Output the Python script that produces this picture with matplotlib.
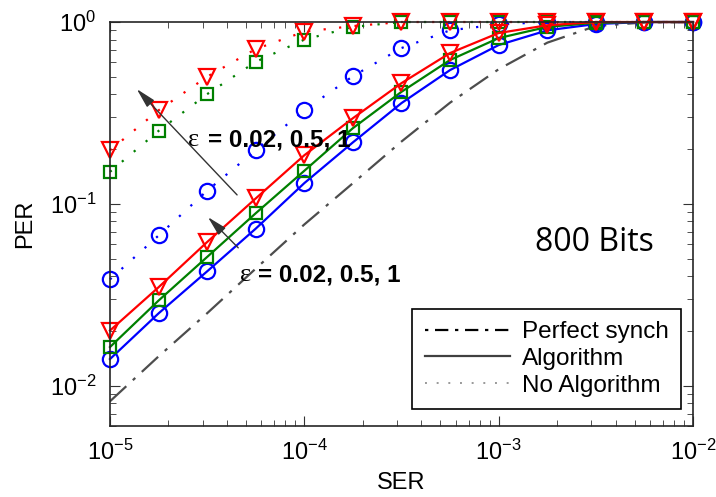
import matplotlib
matplotlib.use("Agg")
import matplotlib.pyplot as plt
from matplotlib.lines import Line2D

plt.rcParams['font.family'] = ['Liberation Sans', 'DejaVu Sans']
plt.rcParams['mathtext.fontset'] = 'custom'
plt.rcParams['mathtext.rm'] = 'Liberation Sans'
plt.rcParams['mathtext.default'] = 'regular'

# SER points (quarter decades)
ser = [1e-5, 1.78e-5, 3.16e-5, 5.62e-5, 1e-4, 1.78e-4, 3.16e-4,
       5.62e-4, 1e-3, 1.78e-3, 3.16e-3, 5.62e-3, 1e-2]

perfect = [0.0082, 0.0145, 0.025, 0.044, 0.077, 0.13, 0.22,
           0.36, 0.55, 0.77, 0.95, 0.995, 1.0]

# with algorithm, eps = 0.02, 0.5, 1
alg_002 = [0.014, 0.025, 0.0425, 0.073, 0.13, 0.218, 0.358,
           0.544, 0.747, 0.90, 0.975, 1.0, 1.0]
alg_05 = [0.0163, 0.0294, 0.051, 0.0887, 0.152, 0.261, 0.413,
          0.618, 0.816, 0.94, 0.99, 1.0, 1.0]
alg_1 = [0.0201, 0.0348, 0.0616, 0.107, 0.185, 0.296, 0.461,
         0.675, 0.87, 0.96, 1.0, 1.0, 1.0]

# no algorithm
noalg_002 = [0.0384, 0.067, 0.118, 0.197, 0.327, 0.504, 0.719,
             0.90, 0.97, 1.0, 1.0, 1.0, 1.0]
noalg_05 = [0.150, 0.252, 0.401, 0.604, 0.80, 0.94, 1.0,
            1.0, 1.0, 1.0, 1.0, 1.0, 1.0]
noalg_1 = [0.197, 0.327, 0.50, 0.71, 0.885, 0.95, 1.0,
           1.0, 1.0, 1.0, 1.0, 1.0, 1.0]

fig = plt.figure(figsize=(7.16, 4.97), dpi=100)
ax = fig.add_axes([0.1536, 0.1429, 0.8143, 0.8128])

dotted = (0, (1, 6))
lw = 1.6
ms_c, ms_t, ms_s = 11, 12, 9

ax.plot(ser, perfect, color='0.3', lw=lw, linestyle=(0, (10, 4, 1.5, 4)))

series = [
    (noalg_002, alg_002, 'blue', 'o', ms_c),
    (noalg_05, alg_05, 'green', 's', ms_s),
    (noalg_1, alg_1, 'red', 'v', ms_t),
]
for noalg, alg, c, m, ms in series:
    ax.plot(ser, noalg, color=c, lw=lw, linestyle=dotted, marker=m, ms=ms,
            mfc='none', mec=c, mew=1.6, clip_on=False)
    ax.plot(ser, alg, color=c, lw=lw, linestyle='-', marker=m, ms=ms,
            mfc='none', mec=c, mew=1.6, clip_on=False)

ax.set_xscale('log')
ax.set_yscale('log')
ax.set_xlim(1e-5, 1e-2)
ax.set_ylim(0.006, 1)

ax.tick_params(which='both', direction='in', top=True, right=True,
               labelsize=17, color='0.2')
ax.tick_params(which='major', length=7, pad=10)
ax.tick_params(which='minor', length=4)
for s in ax.spines.values():
    s.set_linewidth(1.2)
    s.set_color('0.15')

ax.set_xlabel('SER', fontsize=17, labelpad=5)
ax.set_ylabel('PER', fontsize=17, labelpad=10)

# annotations: serif epsilon followed by bold sans text
for ex, rx, ty in [(0.134, 0.168, 0.708), (0.223, 0.254, 0.374)]:
    ax.text(ex, ty, 'ε', transform=ax.transAxes, fontsize=19,
            family='Liberation Serif', va='center', ha='left')
    ax.text(rx, ty, '= 0.02, 0.5, 1', transform=ax.transAxes,
            fontsize=17.5, fontweight='bold', va='center', ha='left')

arrow = dict(arrowstyle='-|>,head_length=1.2,head_width=0.3',
             color='0.2', lw=1.0, shrinkA=0, shrinkB=0)
ax.annotate('', xy=(0.046, 0.834), xytext=(0.218, 0.572),
            xycoords='axes fraction', textcoords='axes fraction',
            arrowprops=arrow)
ax.annotate('', xy=(0.168, 0.517), xytext=(0.220, 0.441),
            xycoords='axes fraction', textcoords='axes fraction',
            arrowprops=arrow)

ax.text(0.729, 0.453, '800 Bits', transform=ax.transAxes, fontsize=23,
        family='Open Sans', va='center', ha='left')

handles = [
    Line2D([], [], color='black', lw=1.6, linestyle=(0, (1.5, 3, 6, 3))),
    Line2D([], [], color='0.25', lw=1.6),
    Line2D([], [], color='0.6', lw=1.4, linestyle=(0, (1, 5))),
]
leg = ax.legend(handles, ['Perfect synch', 'Algorithm', 'No Algorithm'],
                loc='lower right', bbox_to_anchor=(0.979, 0.042),
                borderaxespad=0, fancybox=False, edgecolor='black',
                framealpha=1, fontsize=17.5, handlelength=3.5,
                labelspacing=0.2, borderpad=0.5, handletextpad=0.5)
leg.get_frame().set_linewidth(1.2)

fig.savefig('out.png', dpi=100)
